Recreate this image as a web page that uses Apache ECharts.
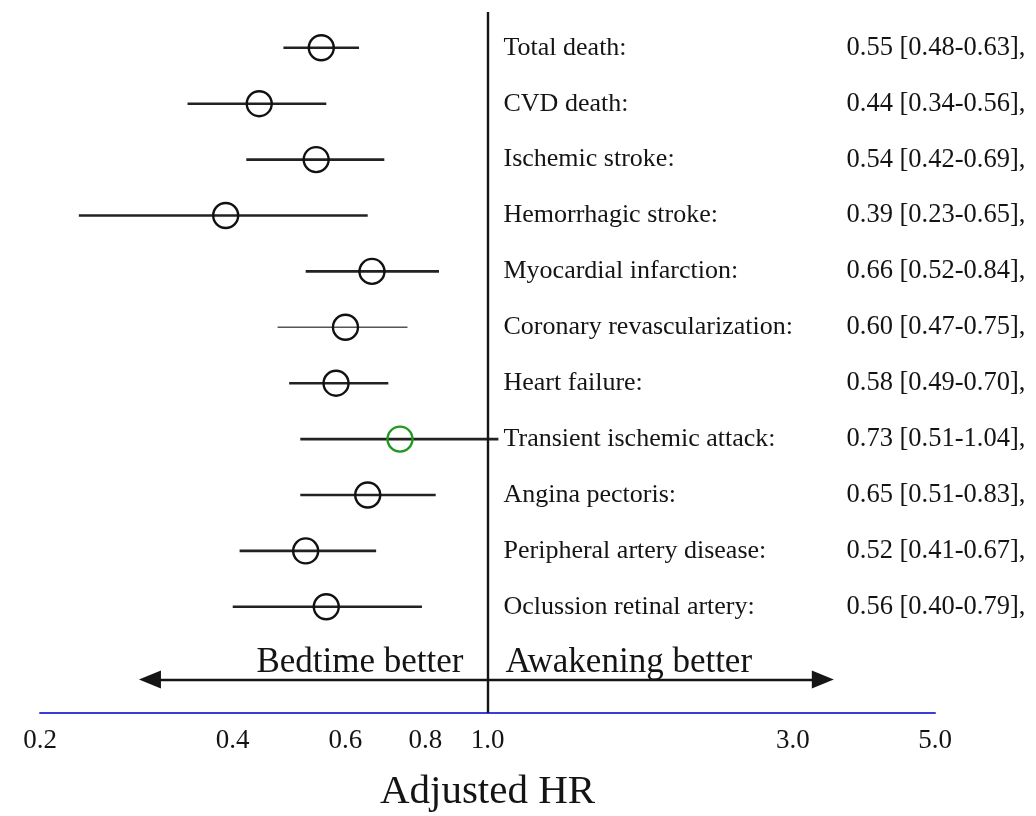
<!DOCTYPE html>
<html>
<head>
<meta charset="utf-8">
<title>Adjusted HR forest plot</title>
<script src="https://cdn.jsdelivr.net/npm/echarts@6/dist/echarts.min.js"></script>
<style>
  html, body { margin: 0; padding: 0; background: #fff; }
  #chart { width: 1036px; height: 816px; }
</style>
</head>
<body>
<div id="chart"></div>
<script>
// outcomes, top to bottom
const outcomes = [
  'Total death', 'CVD death', 'Ischemic stroke', 'Hemorrhagic stroke',
  'Myocardial infarction', 'Coronary revascularization', 'Heart failure',
  'Transient ischemic attack', 'Angina pectoris', 'Peripheral artery disease',
  'Oclussion retinal artery'
];
const hr = [0.55, 0.44, 0.54, 0.39, 0.66, 0.60, 0.58, 0.73, 0.65, 0.52, 0.56];
const ciLow = [0.48, 0.34, 0.42, 0.23, 0.52, 0.47, 0.49, 0.51, 0.51, 0.41, 0.40];
const ciHigh = [0.63, 0.56, 0.69, 0.65, 0.84, 0.75, 0.70, 1.04, 0.83, 0.67, 0.79];

const tickValues = [0.2, 0.4, 0.6, 0.8, 1.0, 3.0, 5.0];
const directionLabels = ['Bedtime better', 'Awakening better'];
const arrowEnds = [0.297, 3.34];   // HR where the arrow heads sit
const arrowRow = 11.3;
const textRow = 11.0;

const highlighted = ['Transient ischemic attack'];
const thinRows = ['Coronary revascularization'];

const serif = "'Liberation Serif', 'Times New Roman', serif";
const ink = '#141414';

const chart = echarts.init(document.getElementById('chart'));

const option = {
  animation: false,
  backgroundColor: '#fff',
  grid: { left: 40, right: 101, top: 12, bottom: 103, outerBoundsMode: 'none' },
  xAxis: {
    type: 'log',
    logBase: 10,
    min: 0.2,
    max: 5,
    name: 'Adjusted HR',
    nameLocation: 'middle',
    nameGap: 59,
    nameTextStyle: { fontFamily: serif, fontSize: 41, color: ink },
    axisLine: { show: true, onZero: false, lineStyle: { color: '#3c3cdc', width: 2 } },
    axisTick: { show: false },
    minorTick: { show: false },
    splitLine: { show: false },
    axisLabel: {
      customValues: tickValues,
      margin: 14,
      fontFamily: serif,
      fontSize: 27,
      color: ink,
      formatter: (v) => Number(v).toFixed(1)
    }
  },
  yAxis: {
    type: 'value',
    inverse: true,
    min: -0.64,
    max: 11.9,
    show: false
  },
  series: [
    {
      // confidence intervals
      type: 'custom',
      z: 2,
      data: outcomes.map((name, i) => [ciLow[i], ciHigh[i], i]),
      encode: { x: [0, 1], y: 2 },
      renderItem: (params, api) => {
        const row = api.value(2);
        const a = api.coord([api.value(0), row]);
        const b = api.coord([api.value(1), row]);
        const thin = thinRows.includes(outcomes[params.dataIndex]);
        return {
          type: 'line',
          shape: { x1: a[0], y1: a[1], x2: b[0], y2: b[1] },
          style: { stroke: thin ? '#555' : '#222', lineWidth: thin ? 1.6 : 2.6 }
        };
      },
      markLine: {
        silent: true,
        symbol: ['none', 'none'],
        label: { show: false },
        lineStyle: { color: '#151515', width: 2.4, type: 'solid' },
        data: [
          { xAxis: 1 },
          [
            { coord: [1, arrowRow], symbol: 'none' },
            { coord: [arrowEnds[0], arrowRow], symbol: 'triangle', symbolSize: [18, 22], symbolRotate: 90 }
          ],
          [
            { coord: [1, arrowRow], symbol: 'none' },
            { coord: [arrowEnds[1], arrowRow], symbol: 'triangle', symbolSize: [18, 22], symbolRotate: -90 }
          ]
        ]
      }
    },
    {
      // point estimates
      type: 'scatter',
      z: 3,
      symbol: 'circle',
      symbolSize: 25,
      data: outcomes.map((name, i) => ({
        value: [hr[i], i],
        itemStyle: {
          opacity: 1,
          color: 'rgba(255,255,255,0)',
          borderColor: highlighted.includes(name) ? '#1f9a1f' : '#111',
          borderWidth: 2.4
        }
      }))
    },
    {
      // outcome names + HR [CI]
      type: 'scatter',
      z: 4,
      symbolSize: 0,
      silent: true,
      itemStyle: { opacity: 1 },
      data: outcomes.map((name, i) => [1, i]),
      label: {
        show: true,
        position: 'right',
        distance: 16,
        formatter: (p) => {
          const i = p.dataIndex;
          const txt = hr[i].toFixed(2) + ' [' + ciLow[i].toFixed(2) + '-' + ciHigh[i].toFixed(2) + '],';
          return '{n|' + outcomes[i] + ':}{v|' + txt + '}';
        },
        rich: {
          n: { width: 343, fontFamily: serif, fontSize: 26, color: ink },
          v: { fontFamily: serif, fontSize: 26.5, color: ink }
        }
      }
    },
    {
      // direction captions
      type: 'scatter',
      z: 4,
      symbolSize: 0,
      silent: true,
      itemStyle: { opacity: 1 },
      data: directionLabels.map((t, i) => ({
        value: [1, textRow],
        label: {
          show: true,
          position: i === 0 ? 'left' : 'right',
          distance: i === 0 ? 24 : 18,
          formatter: t,
          fontFamily: serif,
          fontSize: 35,
          color: ink
        }
      }))
    }
  ]
};

chart.setOption(option);
</script>
</body>
</html>
